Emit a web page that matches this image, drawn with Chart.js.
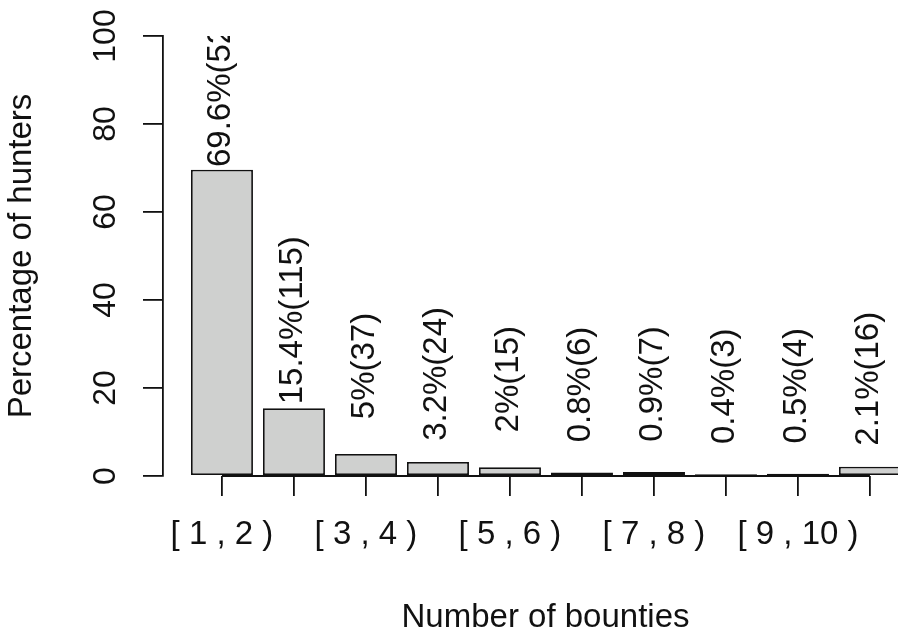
<!DOCTYPE html>
<html>
<head>
<meta charset="utf-8">
<script src="https://cdn.jsdelivr.net/npm/chart.js@4.4.0/dist/chart.umd.min.js"></script>
<style>
  html, body { margin: 0; padding: 0; background: #fff; overflow: hidden; }
  /* plot region runs past the right edge of the window, as in the original */
  #wrap { width: 928px; height: 634px; }
</style>
</head>
<body>
<div id="wrap"><canvas id="myChart"></canvas></div>
<script>
const categories = ['[ 1 , 2 )', '[ 2 , 3 )', '[ 3 , 4 )', '[ 4 , 5 )', '[ 5 , 6 )',
                    '[ 6 , 7 )', '[ 7 , 8 )', '[ 8 , 9 )', '[ 9 , 10 )', '[ 10 , 11 )'];
const percentages = [69.6, 15.4, 5, 3.2, 2, 0.8, 0.9, 0.4, 0.5, 2.1];
const counts = [520, 115, 37, 24, 15, 6, 7, 3, 4, 16];
const yTicks = [0, 20, 40, 60, 80, 100];

const FONT = "'Liberation Sans', Arial, sans-serif";
const INK = '#111';
const LW = 1.8;

// bar labels like text(..., srt = 90) centred 20 units above each bar
const barLabels = {
    id: 'barLabels',
    afterDatasetsDraw(chart) {
        const ctx = chart.ctx;
        const area = chart.chartArea;
        const y = chart.scales.y;
        const x = chart.scales.x;
        const bars = chart.getDatasetMeta(0).data;

        // axis(1) line from first to last tick
        ctx.save();
        ctx.strokeStyle = INK;
        ctx.lineWidth = LW;
        ctx.beginPath();
        ctx.moveTo(x.getPixelForValue(0), y.getPixelForValue(0));
        ctx.lineTo(x.getPixelForValue(categories.length - 1), y.getPixelForValue(0));
        ctx.stroke();
        ctx.restore();

        ctx.save();
        ctx.beginPath();
        ctx.rect(area.left, area.top, area.right - area.left, area.bottom - area.top);
        ctx.clip();
        ctx.font = '33px ' + FONT;
        ctx.fillStyle = INK;
        ctx.textAlign = 'center';
        ctx.textBaseline = 'middle';
        bars.forEach((bar, i) => {
            ctx.save();
            ctx.translate(bar.x - 1, y.getPixelForValue(percentages[i] + 20));
            ctx.rotate(-Math.PI / 2);
            ctx.fillText(percentages[i] + '%(' + counts[i] + ')', 0, 0);
            ctx.restore();
        });
        ctx.restore();
    }
};

const ctx = document.getElementById('myChart').getContext('2d');
const myChart = new Chart(ctx, {
    type: 'bar',
    data: {
        datasets: [{
            data: percentages.map((p, i) => ({ x: i, y: p })),
            backgroundColor: '#cfd0cf',
            borderColor: INK,
            borderWidth: LW,
            borderSkipped: false,
            categoryPercentage: 1,
            barPercentage: 62 / 72
        }]
    },
    options: {
        responsive: true,
        maintainAspectRatio: false,
        animation: false,
        layout: { padding: { top: 36, left: 0, right: 0, bottom: 0 } },
        plugins: {
            legend: { display: false },
            tooltip: { enabled: false }
        },
        scales: {
            x: {
                type: 'linear',
                min: -0.819,
                max: 9.806,
                offset: false,
                afterBuildTicks: s => { s.ticks = categories.map((c, i) => ({ value: i })); },
                afterFit: s => { s.height = 158; },
                grid: {
                    offset: false,
                    drawOnChartArea: false,
                    drawTicks: true,
                    tickLength: 20,
                    color: INK,
                    lineWidth: LW
                },
                border: { display: false },
                ticks: {
                    autoSkip: false,
                    maxRotation: 0,
                    minRotation: 0,
                    padding: 22,
                    color: INK,
                    font: { family: FONT, size: 33, lineHeight: 1 },
                    callback: v => (v % 2 === 0 ? categories[v] : '')
                },
                title: {
                    display: true,
                    text: 'Number of bounties',
                    color: INK,
                    font: { family: FONT, size: 33, lineHeight: 1 },
                    padding: { top: 0, bottom: 0 }
                }
            },
            y: {
                min: 0,
                max: 100,
                afterBuildTicks: s => { s.ticks = yTicks.map(v => ({ value: v })); },
                afterFit: s => { s.width = 163; },
                grid: {
                    drawOnChartArea: false,
                    drawTicks: true,
                    tickLength: 20,
                    color: INK,
                    lineWidth: LW
                },
                border: { display: true, color: INK, width: LW },
                ticks: {
                    autoSkip: false,
                    minRotation: 90,
                    maxRotation: 90,
                    crossAlign: 'center',
                    padding: 10,
                    color: INK,
                    font: { family: FONT, size: 32 }
                },
                title: {
                    display: true,
                    text: 'Percentage of hunters',
                    color: INK,
                    font: { family: FONT, size: 33, lineHeight: 1 },
                    padding: { top: 5, bottom: 0 }
                }
            }
        }
    },
    plugins: [barLabels]
});
</script>
</body>
</html>
